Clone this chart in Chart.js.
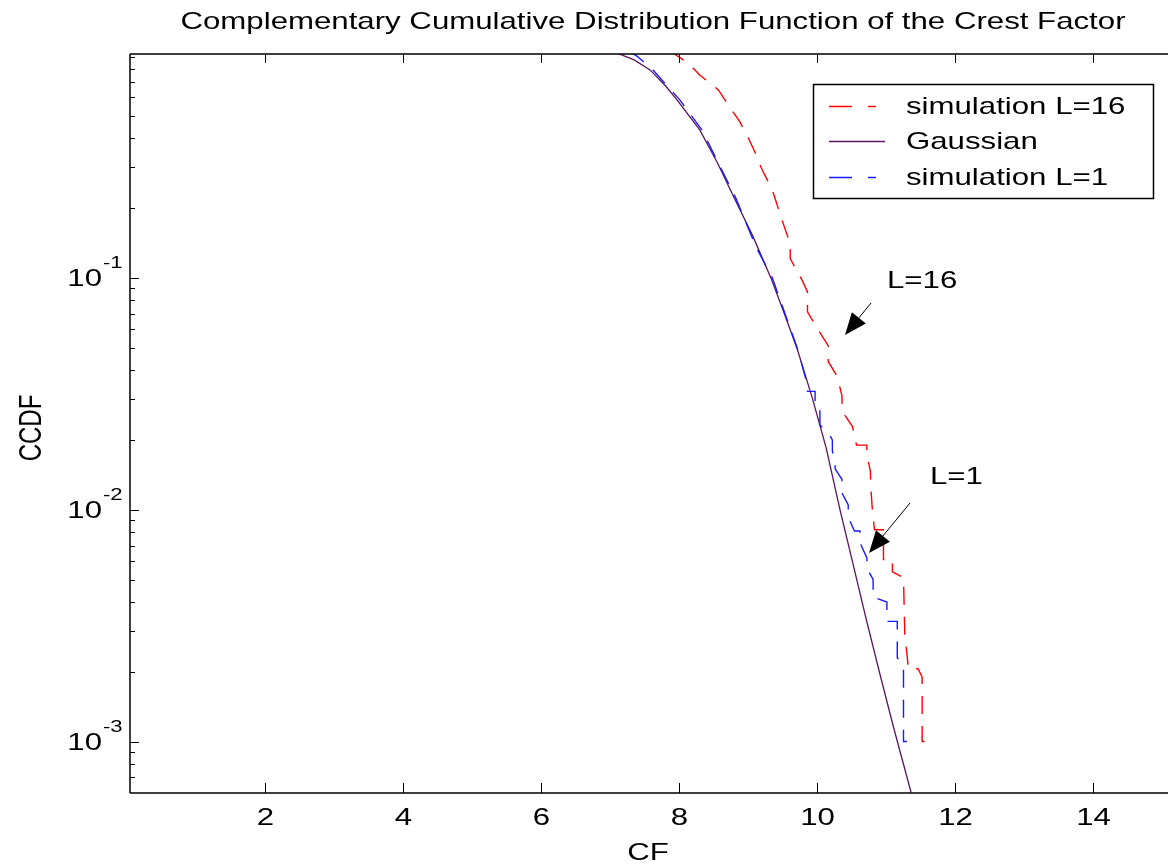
<!DOCTYPE html>
<html>
<head>
<meta charset="utf-8">
<script src="https://cdn.jsdelivr.net/npm/chart.js@4.4.0/dist/chart.umd.min.js"></script>
<style>
  html, body { margin: 0; padding: 0; background: #fff; }
</style>
</head>
<body>
<canvas id="chart" width="1168" height="866"></canvas>
<script>
// --- DATOS ---
const xTicks = [2, 4, 6, 8, 10, 12, 14];
const yTicks = [1e-1, 1e-2, 1e-3];
const yTickExp = ['-1', '-2', '-3'];

const seriesNames = ['simulation L=16', 'Gaussian', 'simulation L=1'];
const seriesColors = ['#ff0000', '#5c145c', '#1a1aff'];

// curva gaussiana
const gaussCF   = [7.10, 7.35, 7.58, 7.80, 7.97, 8.30, 8.55, 8.81, 9.07, 9.33, 9.52, 9.71, 9.93, 10.13, 10.33, 10.50, 10.70, 10.90, 11.10, 11.36];
const gaussCCDF = [0.933, 0.871, 0.789, 0.676, 0.586, 0.435, 0.316, 0.218, 0.151, 0.100, 0.0708, 0.0495, 0.0303, 0.0185, 0.0100,
                   0.00617, 0.00347, 0.00200, 0.00117, 0.000603];

// simulacion L=16 (esquinas de la escalera)
const l16CF   = [7.85, 8.13, 8.30, 8.57, 8.71, 8.88, 9.00, 9.10, 9.20, 9.35, 9.51, 9.61, 9.61, 9.78, 9.86, 9.86, 10.01, 10.16, 10.16,
                 10.29, 10.36, 10.36, 10.51, 10.57, 10.72, 10.72, 10.77, 10.78, 10.80, 10.83, 10.96, 10.96, 11.09, 11.09, 11.25,
                 11.27, 11.30, 11.32, 11.46, 11.52, 11.52, 11.70];
const l16CCDF = [0.96, 0.845, 0.75, 0.647, 0.558, 0.472, 0.403, 0.348, 0.294, 0.24, 0.171, 0.14, 0.121, 0.098, 0.087, 0.0714, 0.060,
                 0.051, 0.0436, 0.0376, 0.0309, 0.0266, 0.0229, 0.019, 0.019, 0.0172, 0.0147, 0.0121, 0.0099, 0.0082, 0.0082, 0.0061,
                 0.0061, 0.0054, 0.0051, 0.0028, 0.0024, 0.00206, 0.00206, 0.0019, 0.0010, 0.0010];

// simulacion L=1 (esquinas de la escalera)
const l1CF   = [7.28, 7.40, 7.62, 8.01, 8.33, 8.83, 9.12, 9.35, 9.55, 9.72, 9.86, 9.86, 9.97, 9.97, 10.04, 10.04, 10.16, 10.22, 10.22,
                10.26, 10.26, 10.36, 10.36, 10.45, 10.45, 10.54, 10.62, 10.62, 10.72, 10.72, 10.81, 10.81, 11.01, 11.01, 11.16,
                11.16, 11.25, 11.25, 11.30];
const l1CCDF = [0.95, 0.90, 0.79, 0.586, 0.435, 0.218, 0.135, 0.100, 0.068, 0.049, 0.0345, 0.0324, 0.0324, 0.0279, 0.0270, 0.0232,
                0.0215, 0.0200, 0.0179, 0.0165, 0.0150, 0.0135, 0.0118, 0.0105, 0.0093, 0.0081, 0.0081, 0.0072, 0.0062, 0.0056,
                0.0050, 0.0042, 0.0040, 0.0033, 0.0033, 0.0023, 0.0021, 0.0010, 0.0010];

// --- LIMITES DE EJES ---
const X_MIN = 0.05, X_MAX = 15.08;
const Y_MIN = 6.22e-4, Y_MAX = 0.924;

const FONT = '"Liberation Sans", Arial, sans-serif';
const STRETCH = 1.3; // la figura original esta estirada en horizontal

function toPoints(xs, ys) {
  return xs.map((x, i) => ({ x: x, y: ys[i] }));
}

function texto(ctx, str, x, y, size, align, baseline, rotar) {
  ctx.save();
  ctx.translate(x, y);
  ctx.scale(STRETCH, 1);
  if (rotar) ctx.rotate(-Math.PI / 2);
  ctx.font = size + 'px ' + FONT;
  ctx.textAlign = align;
  ctx.textBaseline = baseline || 'alphabetic';
  ctx.fillStyle = '#000';
  ctx.fillText(str, 0, 0);
  ctx.restore();
}

function flecha(ctx, x0, y0, x1, y1) {
  const ang = Math.atan2(y1 - y0, x1 - x0);
  const largo = 22, ancho = 9;
  const bx = x1 - largo * Math.cos(ang), by = y1 - largo * Math.sin(ang);
  ctx.beginPath();
  ctx.moveTo(x0, y0);
  ctx.lineTo(bx, by);
  ctx.stroke();
  ctx.beginPath();
  ctx.moveTo(x1, y1);
  ctx.lineTo(bx + ancho * Math.sin(ang), by - ancho * Math.cos(ang));
  ctx.lineTo(bx - ancho * Math.sin(ang), by + ancho * Math.cos(ang));
  ctx.closePath();
  ctx.fill();
}

// --- EJES, LEYENDA Y ANOTACIONES AL ESTILO MATLAB ---
const ejesMatlab = {
  id: 'ejesMatlab',
  afterDraw(chart) {
    const ctx = chart.ctx;
    const a = chart.chartArea;
    const xs = chart.scales.x, ys = chart.scales.y;
    ctx.save();
    ctx.strokeStyle = '#000';
    ctx.fillStyle = '#000';

    // marco
    ctx.lineWidth = 1.5;
    ctx.beginPath();
    ctx.moveTo(a.left, a.top); ctx.lineTo(a.right, a.top);
    ctx.moveTo(a.left, a.top); ctx.lineTo(a.left, a.bottom);
    ctx.moveTo(a.left, a.bottom); ctx.lineTo(a.right, a.bottom);
    ctx.stroke();

    // ticks del eje x (hacia adentro)
    ctx.lineWidth = 1;
    xTicks.forEach(v => {
      const px = Math.round(xs.getPixelForValue(v)) + 0.5;
      ctx.beginPath();
      ctx.moveTo(px, a.bottom); ctx.lineTo(px, a.bottom - 10);
      ctx.moveTo(px, a.top); ctx.lineTo(px, a.top + 9);
      ctx.stroke();
      texto(ctx, String(v), px, a.bottom + 32, 24, 'center');
    });

    // ticks menores y mayores del eje y
    for (let e = -4; e <= -1; e++) {
      for (let m = 1; m <= 9; m++) {
        const v = m * Math.pow(10, e);
        if (v < Y_MIN || v > Y_MAX) continue;
        const py = Math.round(ys.getPixelForValue(v)) + 0.5;
        ctx.beginPath();
        ctx.moveTo(a.left, py); ctx.lineTo(a.left + (m === 1 ? 9 : 5), py);
        ctx.stroke();
      }
    }
    yTicks.forEach((v, i) => {
      const py = ys.getPixelForValue(v);
      texto(ctx, '10', 102, py + 8, 24, 'right');
      texto(ctx, yTickExp[i], 103, py - 10, 17, 'left');
    });

    // titulos
    texto(ctx, 'Complementary Cumulative Distribution Function of the Crest Factor', 653, 29, 24, 'center');
    texto(ctx, 'CF', 648, 860, 24, 'center');
    texto(ctx, 'CCDF', 32, 428, 24, 'center', 'middle', true);

    // leyenda
    ctx.lineWidth = 1.5;
    ctx.strokeRect(813.5, 84.5, 340, 114);
    const filas = [106, 141, 177];
    seriesNames.forEach((nombre, i) => {
      const y = filas[i] + 0.5;
      ctx.strokeStyle = seriesColors[i];
      ctx.lineWidth = 1.5;
      ctx.beginPath();
      if (i !== 1) {
        ctx.moveTo(829, y); ctx.lineTo(852, y);
        ctx.moveTo(868, y); ctx.lineTo(876, y);
      } else {
        ctx.moveTo(829, y); ctx.lineTo(885, y);
      }
      ctx.stroke();
      texto(ctx, nombre, 906, filas[i] + 8, 24, 'left');
    });

    // anotaciones
    ctx.strokeStyle = '#000';
    ctx.lineWidth = 1;
    texto(ctx, 'L=16', 887, 288, 24, 'left');
    flecha(ctx, 871, 303, 845, 335);
    texto(ctx, 'L=1', 930, 484, 24, 'left');
    flecha(ctx, 910, 503, 869, 553);

    ctx.restore();
  }
};

// --- GRAFICO ---
const ctx = document.getElementById('chart').getContext('2d');
const chart = new Chart(ctx, {
  type: 'line',
  data: {
    datasets: [
      {
        label: seriesNames[0],
        data: toPoints(l16CF, l16CCDF),
        borderColor: seriesColors[0],
        borderWidth: 1.4,
        borderDash: [18, 12],
        pointRadius: 0,
        tension: 0,
        order: 3
      },
      {
        label: seriesNames[1],
        data: toPoints(gaussCF, gaussCCDF),
        borderColor: seriesColors[1],
        borderWidth: 1.3,
        pointRadius: 0,
        tension: 0,
        order: 2
      },
      {
        label: seriesNames[2],
        data: toPoints(l1CF, l1CCDF),
        borderColor: seriesColors[2],
        borderWidth: 1.4,
        borderDash: [18, 12],
        pointRadius: 0,
        tension: 0,
        order: 1
      }
    ]
  },
  options: {
    responsive: false,
    animation: false,
    devicePixelRatio: 1,
    events: [],
    layout: { padding: { top: 54, left: 0, right: 0, bottom: 0 } },
    plugins: {
      legend: { display: false },
      title: { display: false },
      tooltip: { enabled: false }
    },
    scales: {
      x: {
        type: 'linear',
        min: X_MIN,
        max: X_MAX,
        grid: { display: false },
        border: { display: false },
        ticks: { display: false },
        afterFit(s) { s.height = 73; }
      },
      y: {
        type: 'logarithmic',
        min: Y_MIN,
        max: Y_MAX,
        grid: { display: false },
        border: { display: false },
        ticks: { display: false },
        afterFit(s) { s.width = 130; }
      }
    }
  },
  plugins: [ejesMatlab]
});
</script>
</body>
</html>
